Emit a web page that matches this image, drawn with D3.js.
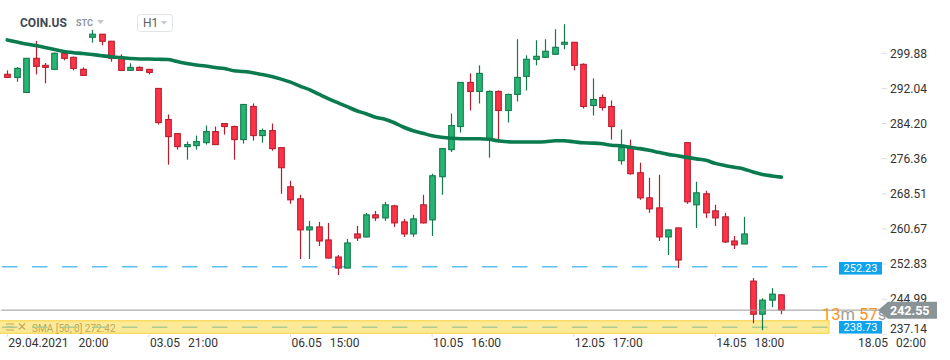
<!DOCTYPE html>
<html><head><meta charset="utf-8">
<script src="https://cdn.jsdelivr.net/npm/d3@7"></script>
<style>body{margin:0;background:#fff;} svg{display:block;font-family:Roboto, "Noto Sans", sans-serif;}</style>
</head><body><svg id="c" width="950" height="360"></svg>
<script>
// ---- data ----
const openP  = [295.18,294.50,291.14,298.76,297.19,296.30,299.88,298.98,296.30,303.46,
  304.14,302.57,298.98,296.07,296.74,296.30,292.04,285.10,281.96,279.05,
  279.27,279.94,282.41,284.20,283.53,280.62,288.01,281.51,282.63,278.82,
  270.09,267.40,260.46,261.13,258.22,254.41,251.94,259.56,258.89,263.82,
  263.14,265.83,262.25,259.56,266.06,262.70,272.33,278.38,283.53,293.38,
  291.37,280.84,291.37,287.11,290.70,294.73,298.54,298.98,299.66,301.90,
  302.34,297.42,288.23,290.02,288.01,275.91,278.60,273.22,267.62,265.38,
  258.89,260.90,279.94,266.06,268.52,264.71,263.37,257.99,257.32,249.03,
  241.64,244.78,245.96];
const highP  = [296.07,296.81,298.83,302.64,297.71,300.06,299.95,299.16,296.74,305.10,
  304.20,302.64,299.66,297.64,296.97,296.36,292.11,286.22,282.03,280.17,
  281.51,283.75,283.53,284.27,283.75,288.52,288.68,283.08,284.20,278.89,
  271.43,268.30,262.47,262.25,262.02,254.86,258.44,261.35,264.26,264.71,
  266.73,266.06,262.92,263.82,268.30,273.00,278.67,286.44,293.45,295.40,
  297.19,291.59,291.59,290.88,303.02,299.43,302.79,303.02,305.26,306.38,
  302.41,297.64,294.28,290.70,289.35,282.86,280.62,275.46,272.10,272.78,
  260.52,260.97,280.01,271.21,269.19,266.06,264.26,259.11,263.37,249.70,
  245.22,247.46,246.12];
const lowP   = [294.35,293.52,291.10,295.18,293.16,296.14,298.31,296.07,294.84,302.26,
  301.67,298.00,295.96,295.96,296.03,295.18,283.98,275.02,278.38,276.14,
  278.38,279.50,279.45,281.74,276.14,279.72,280.39,279.94,278.15,268.52,
  266.28,253.96,253.96,256.87,254.07,250.38,251.90,257.99,258.78,262.47,
  262.47,261.13,258.89,258.89,261.91,259.11,268.30,277.84,282.18,287.11,
  288.68,276.58,279.94,284.42,289.13,291.59,297.19,298.87,299.54,300.78,
  296.07,287.56,285.99,287.11,280.62,275.02,272.78,267.18,264.26,257.99,
  254.86,251.94,266.28,260.90,263.14,261.35,257.54,256.20,257.28,239.62,
  238.06,243.21,241.64];
const closeP = [294.50,296.52,298.76,296.97,296.74,299.88,298.76,296.52,294.95,304.14,
  302.57,298.76,296.07,296.74,296.07,295.62,284.42,281.29,279.05,279.50,
  280.17,282.41,279.50,283.53,280.62,288.46,281.51,282.63,278.60,274.34,
  267.18,260.46,261.13,257.99,254.18,251.94,257.54,258.66,263.82,263.14,
  266.06,262.02,259.56,262.92,262.02,272.55,278.60,283.75,293.38,291.37,
  295.40,291.37,287.11,290.70,294.50,298.54,299.21,300.33,301.22,302.34,
  297.19,288.01,289.58,287.78,283.53,278.82,273.00,267.62,265.16,258.89,
  260.46,253.74,266.73,268.74,264.26,263.14,257.77,257.10,259.56,241.64,
  244.78,246.12,242.55];
const smaP = [302.86,302.41,301.96,301.63,301.18,300.73,300.28,300.02,299.84,299.61,
  299.34,299.10,298.94,298.72,298.60,298.60,298.54,298.49,298.04,297.60,
  297.26,297.04,296.70,296.48,295.98,295.80,295.54,295.13,294.68,294.12,
  293.45,292.56,291.77,290.76,289.76,288.86,287.96,287.07,286.40,285.61,
  285.16,284.38,283.37,282.59,282.03,281.47,281.13,280.91,280.80,280.80,
  280.80,280.68,280.35,280.12,280.08,280.08,280.08,280.12,280.35,280.35,
  280.12,279.90,279.83,279.68,279.34,279.23,278.89,278.60,278.22,277.77,
  277.32,276.99,276.65,276.32,275.98,275.31,274.86,274.46,274.08,273.40,
  272.84,272.51,272.24];
const xTickIndex = [0,15,30,45,60,75,90];
const xTickDate  = ["29.04.2021","03.05","06.05","10.05","12.05","14.05","18.05"];
const xTickTime  = ["20:00","21:00","15:00","16:00","17:00","18:00","02:00"];
const yTicks = [299.88,292.04,284.20,276.36,268.51,260.67,252.83,244.99,237.14];
const priceLines = [252.23, 238.73];
const lastPrice = 242.55;
const countdown = [["13","d"],["m","u"],[" 57","d"],["s","u"]];
const symbol = "COIN.US", symType = "STC", interval = "H1";
const smaLegend = "SMA [50, 0] 272.42";

// ---- scales ----
const svg = d3.select("#c");
const x = d3.scaleLinear().domain([0, 90]).range([7.3, 7.3 + 90 * 9.44]);
const y = d3.scaleLinear().domain([237.14, 299.88]).range([53.3 + 62.74 * 4.48, 53.3]);
const plotRight = 829;

// ---- header ----
svg.append("text").attr("x", 20).attr("y", 26.7).attr("font-size", 12).attr("font-weight", 700)
  .attr("fill", "#3d4852").text(symbol);
svg.append("text").attr("x", 76).attr("y", 26.3).attr("font-size", 9).attr("font-weight", 700)
  .attr("fill", "#8e969c").text(symType);
svg.append("path").attr("d", "M97,20 L104,20 L100.5,24 Z").attr("fill", "#c5c9cc");
svg.append("rect").attr("x", 137.5).attr("y", 14.5).attr("width", 35).attr("height", 17).attr("rx", 3)
  .attr("fill", "#fff").attr("stroke", "#e1e4e7");
svg.append("text").attr("x", 143).attr("y", 27).attr("font-size", 12).attr("fill", "#5a5f64").text(interval);
svg.append("path").attr("d", "M161,21 L167,21 L164,24.5 Z").attr("fill", "#c5c9cc");

// ---- SMA legend (under the band) ----
const lg = svg.append("g").attr("stroke", "#7d7d7d").attr("stroke-width", 1.2).attr("fill", "none");
lg.append("path").attr("d", "M6,324 H14 M6,327 H14 M6,330 H14");
lg.append("path").attr("d", "M19,323.5 L25,329.5 M25,323.5 L19,329.5");
svg.append("text").attr("x", 32).attr("y", 332).attr("font-size", 10).attr("fill", "#7a7a7a")
  .text(smaLegend);

// ---- price lines ----
svg.selectAll("line.pl").data(priceLines).join("line").attr("class", "pl")
  .attr("x1", 2).attr("x2", plotRight).attr("y1", d => y(d)).attr("y2", d => y(d))
  .attr("stroke", "#5cc1f2").attr("stroke-width", 1.6).attr("stroke-dasharray", "15.5,14.5");

// yellow band at 238.73
svg.append("rect").attr("x", -1).attr("y", y(priceLines[1]) - 6.5).attr("width", plotRight + 1).attr("height", 12.5)
  .attr("fill", "rgba(250,214,50,0.5)").attr("stroke", "rgba(245,196,0,0.75)").attr("stroke-width", 1);

// ---- candles ----
const idx = d3.range(openP.length);
const upFill = "#27b574", upLine = "#137a4b", dnFill = "#ff3347", dnLine = "#b81d2e";
const g = svg.append("g");
g.selectAll("line.w").data(idx).join("line").attr("class", "w")
  .attr("x1", i => Math.round(x(i)) + 0.5).attr("x2", i => Math.round(x(i)) + 0.5)
  .attr("y1", i => y(highP[i])).attr("y2", i => y(lowP[i]))
  .attr("stroke", i => closeP[i] >= openP[i] ? upLine : dnLine).attr("stroke-width", 1.2);
g.selectAll("rect.b").data(idx).join("rect").attr("class", "b")
  .attr("x", i => Math.round(x(i)) + 0.5 - 2.8).attr("width", 5.6)
  .attr("y", i => y(Math.max(openP[i], closeP[i])))
  .attr("height", i => Math.max(1.5, Math.abs(y(openP[i]) - y(closeP[i]))))
  .attr("fill", i => closeP[i] >= openP[i] ? upFill : dnFill)
  .attr("stroke", i => closeP[i] >= openP[i] ? upLine : dnLine).attr("stroke-width", 1.1);

// ---- SMA line ----
svg.append("path").datum(idx)
  .attr("d", d3.line().x(i => x(i)).y(i => y(smaP[i])).curve(d3.curveMonotoneX))
  .attr("fill", "none").attr("stroke", "#0a7b4e").attr("stroke-width", 3.6)
  .attr("stroke-linecap", "round").attr("stroke-linejoin", "round");

// ---- last price line ----
svg.append("line").attr("x1", 1).attr("x2", 880).attr("y1", y(lastPrice)).attr("y2", y(lastPrice))
  .attr("stroke", "#9a9a9a").attr("stroke-width", 1);

// ---- y axis ----
const ya = svg.append("g");
yTicks.forEach(v => {
  const yy = y(v);
  ya.append("line").attr("x1", 882).attr("x2", 887).attr("y1", yy).attr("y2", yy)
    .attr("stroke", "#dcdcdc").attr("stroke-width", 1);
  ya.append("text").attr("x", 890).attr("y", Math.min(yy, 328.5)).attr("dy", "0.35em")
    .attr("font-size", 12).attr("fill", "#333").text(v.toFixed(2));
});

// countdown
const cd = svg.append("text").attr("x", 822).attr("y", 320).attr("font-size", 16.5).attr("font-weight", 400)
  .style("white-space", "pre");
countdown.forEach(([t, k]) => cd.append("tspan").attr("fill", k === "d" ? "#f7931e" : "#9d9d9d").text(t));

// blue price labels
priceLines.forEach((v, k) => {
  const yy = y(v) + (k === 0 ? 1.5 : 0);
  svg.append("rect").attr("x", 839).attr("y", yy - 6.3).attr("width", 43).attr("height", 12.6)
    .attr("fill", "#0ea3ea");
  svg.append("text").attr("x", 860.5).attr("y", yy).attr("dy", "0.36em").attr("text-anchor", "middle")
    .attr("font-size", 11).attr("fill", "#fff").text(v.toFixed(2));
});

// last price arrow label
const ly = y(lastPrice);
svg.append("path").attr("d", `M878,${ly} L888,${ly - 8.5} L937,${ly - 8.5} L937,${ly + 8.5} L888,${ly + 8.5} Z`)
  .attr("fill", "#8a9396");
svg.append("text").attr("x", 890).attr("y", ly).attr("dy", "0.36em").attr("font-size", 12.5)
  .attr("font-weight", 700).attr("fill", "#fff").text(lastPrice.toFixed(2));

// ---- x axis ----
xTickIndex.forEach((ti, k) => {
  const xx = x(ti);
  if (ti < 90) svg.append("line").attr("x1", xx).attr("x2", xx).attr("y1", 334).attr("y2", 337)
    .attr("stroke", "#dcdcdc");
  const t = svg.append("text").attr("x", xx + 1).attr("y", 347).attr("font-size", 12).attr("fill", "#333");
  t.append("tspan").text(xTickDate[k]);
  t.append("tspan").attr("dx", k === 0 ? 10 : 8).text(xTickTime[k]);
});
</script></body></html>
